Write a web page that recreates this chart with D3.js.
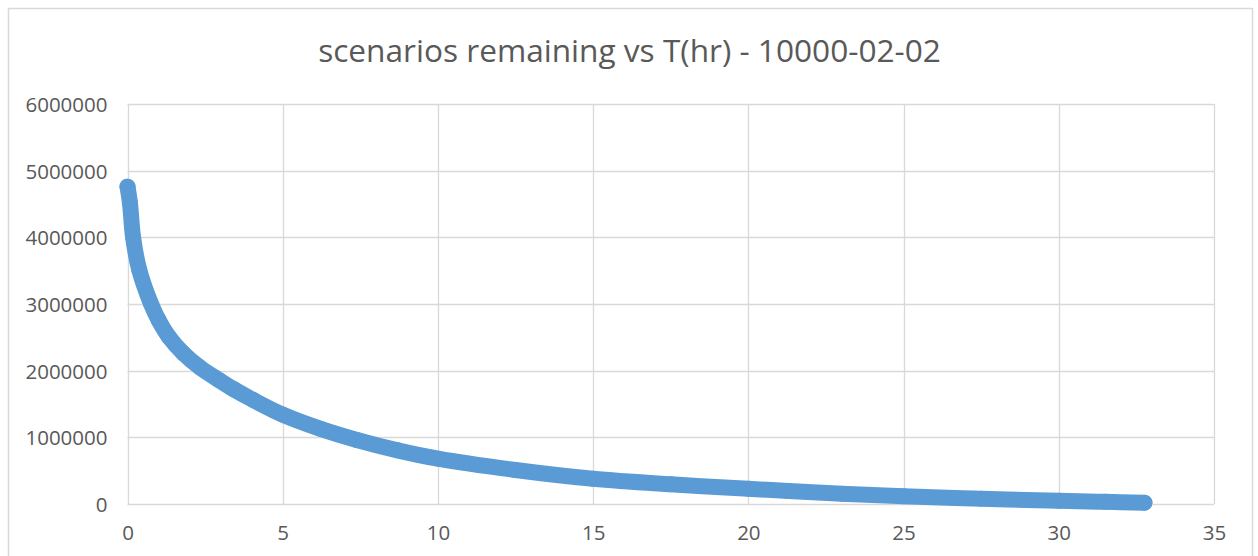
<!DOCTYPE html>
<html>
<head>
<meta charset="utf-8">
<script src="https://cdn.jsdelivr.net/npm/d3@7"></script>
<style>
  html, body { margin: 0; padding: 0; background: #ffffff; }
  svg { display: block; }
</style>
</head>
<body>
<svg id="chart" width="1258" height="556"></svg>
<script>
// ---- data ----
const titleText = "scenarios remaining vs T(hr) - 10000-02-02";
const hours = [0, 0.08, 0.18, 0.38, 0.75, 1.0, 1.33, 1.8, 2.33, 2.98, 3.41, 4.05, 5, 6.2, 7.39, 8.7, 10, 12.5, 15, 17.5, 20, 21.3, 23, 25, 27.5, 30, 31.5, 32.76];
const remaining = [4760000, 4510000, 4000000, 3510000, 3010000, 2760000, 2510000, 2260000, 2050000, 1850000, 1725000, 1560000, 1340000, 1130000, 960000, 805000, 680000, 510000, 378000, 295000, 228000, 195000, 155000, 115000, 80000, 48000, 32000, 20000];
const xTicks = [0, 5, 10, 15, 20, 25, 30, 35];
const yTicks = [0, 1000000, 2000000, 3000000, 4000000, 5000000, 6000000];

const svg = d3.select("#chart");

// outer chart frame
svg.append("rect")
  .attr("x", 8.5).attr("y", 8.5)
  .attr("width", 1244).attr("height", 560)
  .attr("fill", "#ffffff")
  .attr("stroke", "#d9d9d9").attr("stroke-width", 1.5);

const plot = { left: 127.5, right: 1214, top: 104, bottom: 504 };

const x = d3.scaleLinear().domain([0, 35]).range([plot.left, plot.right]);
const y = d3.scaleLinear().domain([0, 6000000]).range([plot.bottom, plot.top]);

const fontFam = "'Open Sans', 'DejaVu Sans', sans-serif";
const textColor = "#595959";
const gridColor = "#d9d9d9";

// gridlines
const g = svg.append("g");
g.selectAll("line.hg").data(yTicks).enter().append("line")
  .attr("x1", plot.left).attr("x2", plot.right)
  .attr("y1", d => Math.round(y(d)) + 0.5).attr("y2", d => Math.round(y(d)) + 0.5)
  .attr("stroke", gridColor).attr("stroke-width", 1.3);
g.selectAll("line.vg").data(xTicks).enter().append("line")
  .attr("y1", plot.top).attr("y2", plot.bottom)
  .attr("x1", d => Math.round(x(d)) + 0.5).attr("x2", d => Math.round(x(d)) + 0.5)
  .attr("stroke", gridColor).attr("stroke-width", 1.3);

// axis labels via d3 axes (no lines)
const tickSize = 20.5;
const yAxis = svg.append("g")
  .attr("transform", `translate(${plot.left - 20},0)`)
  .call(d3.axisLeft(y).tickValues(yTicks).tickSize(0).tickPadding(0).tickFormat(d3.format("d")));
yAxis.select(".domain").remove();
yAxis.selectAll("text")
  .attr("font-family", fontFam).attr("font-size", tickSize)
  .attr("fill", textColor).attr("dy", "0.36em");

const xAxis = svg.append("g")
  .attr("transform", `translate(0,${plot.bottom + 21})`)
  .call(d3.axisBottom(x).tickValues(xTicks).tickSize(0).tickPadding(0).tickFormat(d3.format("d")));
xAxis.select(".domain").remove();
xAxis.selectAll("text")
  .attr("font-family", fontFam).attr("font-size", tickSize)
  .attr("fill", textColor).attr("dy", "0.75em");

// series: dense markers rendered as a thick band
const pts = hours.map((h, i) => [h, remaining[i]]);
const bandW = 16;
const line = d3.line().x(d => x(d[0])).y(d => y(d[1])).curve(d3.curveCatmullRom.alpha(0.5));
svg.append("path")
  .datum(pts)
  .attr("d", line)
  .attr("fill", "none")
  .attr("stroke", "#5b9bd5")
  .attr("stroke-width", bandW)
  .attr("stroke-linecap", "round")
  .attr("stroke-linejoin", "round");
svg.append("g").selectAll("circle").data(pts).enter().append("circle")
  .attr("cx", d => x(d[0])).attr("cy", d => y(d[1])).attr("r", bandW / 2)
  .attr("fill", "#5b9bd5");

// title
const title = svg.append("text")
  .attr("x", 629.5).attr("y", 62)
  .attr("text-anchor", "middle")
  .attr("font-family", fontFam).attr("font-size", 27)
  .attr("fill", textColor)
  .text(titleText);
const tw = title.node().getComputedTextLength();
title.attr("font-size", 27 * 623 / tw);
</script>
</body>
</html>
